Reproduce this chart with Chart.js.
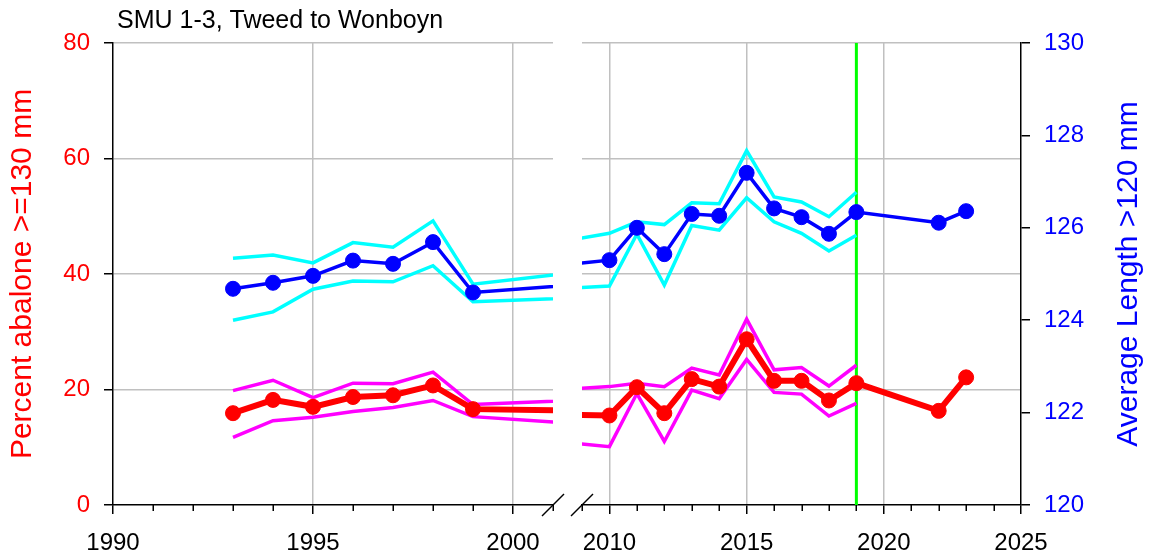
<!DOCTYPE html>
<html><head><meta charset="utf-8">
<script src="https://cdn.jsdelivr.net/npm/chart.js@4/dist/chart.umd.min.js"></script>
<style>
html,body{margin:0;padding:0;background:#fff;overflow:hidden}
#wrap{position:relative;width:1150px;height:555px;background:#fff}
canvas{position:absolute;top:0}
#cL{left:0}
#cR{left:570px}
</style></head><body>
<div id="wrap"><canvas id="cL" width="570" height="555"></canvas><canvas id="cR" width="580" height="555"></canvas></div>
<script>
const chartTitle = 'SMU 1-3, Tweed to Wonboyn';
const leftAxisTitle = 'Percent abalone >=130 mm';
const rightAxisTitle = 'Average Length >120 mm';
const years      = [1993,1994,1995,1996,1997,1998,1999,2010,2011,2012,2013,2014,2015,2016,2017,2018,2019,2022,2023];
const pctLarge   = [15.9,18.2,17.0,18.7,19.0,20.7,16.6,15.5,20.4,15.9,21.8,20.5,28.7,21.5,21.5,18.1,21.1,16.3,22.1];
const pctUpper   = [19.8,21.6,18.6,21.1,21.0,23.0,17.4,20.5,21.1,20.5,23.7,22.5,32.2,23.4,23.8,20.6,24.2,null,null];
const pctLower   = [11.7,14.6,15.2,16.2,16.9,18.1,15.3,10.1,19.3,11.0,19.9,18.4,25.2,19.5,19.2,15.4,17.6,null,null];
const meanLength = [124.68,124.81,124.96,125.29,125.22,125.69,124.60,125.30,126.00,125.43,126.30,126.26,127.19,126.42,126.23,125.87,126.34,126.11,126.36];
const lenUpper   = [125.34,125.41,125.24,125.68,125.58,126.15,124.78,125.88,126.13,126.07,126.54,126.52,127.67,126.67,126.56,126.24,126.77,null,null];
const lenLower   = [124.00,124.18,124.67,124.85,124.83,125.18,124.40,124.74,125.86,124.76,126.05,125.95,126.65,126.13,125.88,125.50,125.84,null,null];
const markerYear = 2019;
const leftRange  = [1990, 2001];
const rightRange = [2009, 2025];
const leftXTicks  = [1990, 1995, 2000];
const rightXTicks = [2010, 2015, 2020, 2025];
const pctAxis = {min: 0, max: 80, step: 20};
const lenAxis = {min: 120, max: 130, step: 2};

const FAMILY = "'Liberation Sans', Arial, Helvetica, sans-serif";
const tickFont = {family: FAMILY, size: 24};
const GRID = '#c0c0c0';
const NONE = 'rgba(0,0,0,0)';

function pts(arr){ return years.map((x,i)=>({x:x, y:arr[i]})); }
function zeroPad(s){ s.paddingTop=0; s.paddingBottom=0; s.paddingLeft=0; s.paddingRight=0; }

function makeDatasets(){
  return [
    {data: pts(meanLength), yAxisID:'y2', borderColor:'#0000ff', backgroundColor:'#0000ff', borderWidth:3.5, pointRadius:7.5, pointBorderWidth:1, order:1},
    {data: pts(lenUpper), yAxisID:'y2', borderColor:'#00ffff', borderWidth:3.5, pointRadius:0, order:3},
    {data: pts(lenLower), yAxisID:'y2', borderColor:'#00ffff', borderWidth:3.5, pointRadius:0, order:3},
    {data: pts(pctLarge), yAxisID:'y', borderColor:'#ff0000', backgroundColor:'#ff0000', borderWidth:6, pointRadius:7.5, pointBorderWidth:1, order:2},
    {data: pts(pctUpper), yAxisID:'y', borderColor:'#ff00ff', borderWidth:3.5, pointRadius:0, order:4},
    {data: pts(pctLower), yAxisID:'y', borderColor:'#ff00ff', borderWidth:3.5, pointRadius:0, order:4},
    {data: [{x:markerYear, y:pctAxis.min},{x:markerYear, y:pctAxis.max}], yAxisID:'y', borderColor:'#00ff00', borderWidth:3, pointRadius:0, order:10}
  ];
}

const minorTicks = {id:'minorTicks', afterDraw(chart){
  const xs = chart.scales.x, ctx = chart.ctx, y0 = chart.chartArea.bottom;
  ctx.save(); ctx.strokeStyle='#000'; ctx.lineWidth=1.5;
  for (let yr = Math.ceil(xs.min); yr <= xs.max; yr++) {
    if (yr % 5 === 0) continue;
    const px = Math.round(xs.getPixelForValue(yr)) + 0.25;
    ctx.beginPath(); ctx.moveTo(px, y0); ctx.lineTo(px, y0 + 6); ctx.stroke();
  }
  ctx.restore();
}};

const axisBreak = {id:'axisBreak', afterDraw(chart, args, opts){
  const a = chart.chartArea, ctx = chart.ctx;
  const cx = opts.side === 'right' ? a.right : a.left, cy = a.bottom;
  ctx.save(); ctx.strokeStyle='#000'; ctx.lineWidth=1.5;
  ctx.beginPath(); ctx.moveTo(cx-11, cy+11); ctx.lineTo(cx+11, cy-11); ctx.stroke();
  ctx.restore();
}};

const topTitle = {id:'topTitle', afterDraw(chart){
  const a = chart.chartArea, ctx = chart.ctx;
  ctx.save();
  ctx.font = '25px ' + FAMILY;
  ctx.fillStyle = '#000'; ctx.textAlign = 'left'; ctx.textBaseline = 'middle';
  ctx.fillText(chartTitle, a.left + 4, 21);
  ctx.restore();
}};

const rightTitle = {id:'rightTitle', afterDraw(chart){
  const s = chart.scales.y2, a = chart.chartArea, ctx = chart.ctx;
  ctx.save();
  ctx.translate(s.right - 21, (a.top + a.bottom) / 2);
  ctx.rotate(-Math.PI / 2);
  ctx.font = '30px ' + FAMILY;
  ctx.fillStyle = '#0000ff'; ctx.textAlign = 'center'; ctx.textBaseline = 'middle';
  ctx.fillText(rightAxisTitle, 0, 0);
  ctx.restore();
}};

function xScale(range, tickVals, edgeNoGrid){
  return {
    type:'linear', min:range[0], max:range[1],
    afterBuildTicks: s => { s.ticks = tickVals.map(v => ({value:v})); },
    afterFit: s => { s.height = 50; zeroPad(s); },
    ticks:{color:'#000', font:tickFont, padding:15, maxRotation:0, autoSkip:false, callback: v => String(v)},
    grid:{color: c => (c.tick && c.tick.value === edgeNoGrid) ? NONE : GRID, lineWidth:1.5, tickColor:'#000', tickLength:9, tickWidth:1.5},
    border:{color:'#000', width:1.5}
  };
}

Chart.defaults.font.family = FAMILY;

new Chart(document.getElementById('cL'), {
  type:'line',
  data:{datasets: makeDatasets()},
  options:{
    responsive:false, animation:false, events:[],
    layout:{padding:{top:43, left:0, right:17, bottom:0}},
    elements:{line:{tension:0}},
    scales:{
      x: xScale(leftRange, leftXTicks, leftRange[0]),
      y: {position:'left', min:pctAxis.min, max:pctAxis.max,
          ticks:{stepSize:pctAxis.step, color:'#ff0000', font:tickFont, padding:14},
          afterFit: s => { s.width = 113; zeroPad(s); },
          grid:{color: c => (c.tick && c.tick.value === pctAxis.min) ? NONE : GRID, lineWidth:1.5, tickColor:'#000', tickLength:9, tickWidth:1.5},
          border:{color:'#000', width:1.5},
          title:{display:true, text:leftAxisTitle, color:'#ff0000', font:{family:FAMILY, size:30}, padding:{top:5, bottom:0}}},
      y2: {position:'right', display:false, min:lenAxis.min, max:lenAxis.max}
    },
    plugins:{
      legend:{display:false}, tooltip:{enabled:false}, title:{display:false},
      axisBreak:{side:'right'}
    }
  },
  plugins:[minorTicks, axisBreak, topTitle]
});

new Chart(document.getElementById('cR'), {
  type:'line',
  data:{datasets: makeDatasets()},
  options:{
    responsive:false, animation:false, events:[],
    layout:{padding:{top:43, left:12, right:0, bottom:0}},
    elements:{line:{tension:0}},
    scales:{
      x: xScale(rightRange, rightXTicks, rightRange[1]),
      y: {position:'left', min:pctAxis.min, max:pctAxis.max,
          ticks:{display:false, stepSize:pctAxis.step},
          afterFit: s => { s.width = 0; zeroPad(s); },
          grid:{color: c => (c.tick && c.tick.value === pctAxis.min) ? NONE : GRID, lineWidth:1.5, drawTicks:false},
          border:{display:false}},
      y2: {position:'right', min:lenAxis.min, max:lenAxis.max,
           ticks:{stepSize:lenAxis.step, color:'#0000ff', font:tickFont, padding:14},
           afterFit: s => { s.width = 129; zeroPad(s); },
           grid:{drawOnChartArea:false, color:'#000', tickColor:'#000', tickLength:9, tickWidth:1.5, lineWidth:1.5},
           border:{color:'#000', width:1.5}}
    },
    plugins:{
      legend:{display:false}, tooltip:{enabled:false}, title:{display:false},
      axisBreak:{side:'left'}
    }
  },
  plugins:[minorTicks, axisBreak, rightTitle]
});
</script>
</body></html>
